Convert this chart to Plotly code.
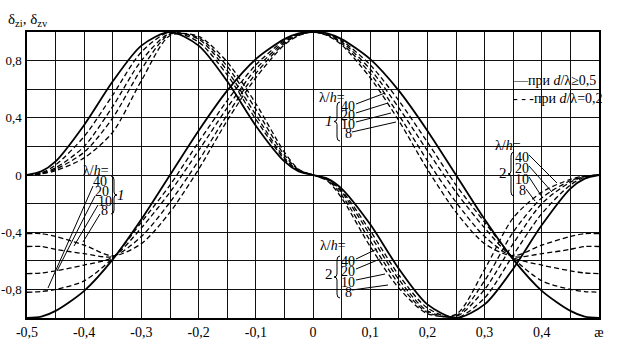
import plotly.graph_objects as go

# ---------------- data ----------------
X_GRID = [-0.5, -0.475, -0.45, -0.4, -0.35, -0.3, -0.25, -0.2, -0.15, -0.1, -0.05, -0.025, 0.0,
          0.025, 0.05, 0.1, 0.15, 0.2, 0.25, 0.3, 0.35, 0.4, 0.45, 0.475, 0.5]

# family 1 (even), solid: d/lambda >= 0.5
F1_SOLID = [-1.0, -0.99, -0.95, -0.81, -0.59, -0.31, 0.0, 0.31, 0.59, 0.81, 0.95, 0.99, 1.0,
            0.99, 0.95, 0.81, 0.59, 0.31, 0.0, -0.31, -0.59, -0.81, -0.95, -0.99, -1.0]
# family 1, dashed: d/lambda = 0.2, lambda/h = 40, 20, 10, 8
F1_D40 = [-0.82, -0.815, -0.80, -0.74, -0.58, -0.33, -0.07, 0.23, 0.52, 0.77, 0.94, 0.985, 1.0,
          0.985, 0.94, 0.77, 0.52, 0.23, -0.07, -0.33, -0.58, -0.74, -0.80, -0.815, -0.82]
F1_D20 = [-0.69, -0.685, -0.67, -0.63, -0.575, -0.37, -0.12, 0.17, 0.47, 0.74, 0.93, 0.98, 1.0,
          0.98, 0.93, 0.74, 0.47, 0.17, -0.12, -0.37, -0.575, -0.63, -0.67, -0.685, -0.69]
F1_D10 = [-0.50, -0.50, -0.52, -0.55, -0.57, -0.43, -0.19, 0.10, 0.42, 0.71, 0.92, 0.98, 1.0,
          0.98, 0.92, 0.71, 0.42, 0.10, -0.19, -0.43, -0.57, -0.55, -0.52, -0.50, -0.50]
F1_D8 = [-0.41, -0.41, -0.43, -0.49, -0.565, -0.48, -0.26, 0.04, 0.38, 0.68, 0.91, 0.975, 1.0,
         0.975, 0.91, 0.68, 0.38, 0.04, -0.26, -0.48, -0.565, -0.49, -0.43, -0.41, -0.41]

# family 2 (odd), solid
F2_SOLID = [0.0, 0.025, 0.095, 0.35, 0.655, 0.905, 1.0, 0.905, 0.655, 0.345, 0.095, 0.025, 0.0,
            -0.025, -0.095, -0.345, -0.655, -0.905, -1.0, -0.905, -0.655, -0.35, -0.095, -0.025, 0.0]
# family 2, dashed
F2_D40 = [0.0, 0.015, 0.07, 0.27, 0.56, 0.86, 1.0, 0.93, 0.70, 0.39, 0.11, 0.03, 0.0,
          -0.03, -0.11, -0.39, -0.70, -0.93, -1.0, -0.86, -0.56, -0.27, -0.07, -0.015, 0.0]
F2_D20 = [0.0, 0.012, 0.05, 0.20, 0.48, 0.80, 0.99, 0.95, 0.73, 0.42, 0.12, 0.03, 0.0,
          -0.03, -0.12, -0.42, -0.73, -0.95, -0.99, -0.80, -0.48, -0.20, -0.05, -0.012, 0.0]
F2_D10 = [0.0, 0.01, 0.04, 0.16, 0.40, 0.74, 0.985, 0.96, 0.76, 0.46, 0.14, 0.035, 0.0,
          -0.035, -0.14, -0.46, -0.76, -0.96, -0.985, -0.74, -0.40, -0.16, -0.04, -0.01, 0.0]
F2_D8 = [0.0, 0.008, 0.03, 0.12, 0.30, 0.66, 0.975, 0.97, 0.79, 0.50, 0.16, 0.04, 0.0,
         -0.04, -0.16, -0.50, -0.79, -0.97, -0.975, -0.66, -0.30, -0.12, -0.03, -0.008, 0.0]

LAMBDA_H = ["40", "20", "10", "8"]

X_TICK_VALS = [-0.5, -0.45, -0.4, -0.35, -0.3, -0.25, -0.2, -0.15, -0.1, -0.05, 0.0,
               0.05, 0.1, 0.15, 0.2, 0.25, 0.3, 0.35, 0.4, 0.45, 0.5]
X_TICK_TEXT = ["-0,5", " ", "-0,4", " ", "-0,3", " ", "-0,2", " ", "-0,1", " ", "0",
               " ", "0,1", " ", "0,2", " ", "0,3", " ", "0,4", " ", "æ"]
Y_TICK_VALS = [-1.0, -0.8, -0.6, -0.4, -0.2, 0.0, 0.2, 0.4, 0.6, 0.8, 1.0]
Y_TICK_TEXT = [" ", "-0,8", " ", "-0,4", " ", "0", " ", "0,4", " ", "0,8", " "]

Y_TITLE = "δ<sub>zi</sub>, δ<sub>zv</sub>"
LEGEND_SOLID = "—при <i>d</i>/λ≥0,5"
LEGEND_DASH = "- - -при <i>d</i>/λ=0,2"

# ---------------- layout helpers ----------------
W, H = 617, 341
L, R, T, B = 27, 18, 32, 23
FONT = "Liberation Serif, Times New Roman, serif"


def X(px):
    return -0.5 + (px - L) / (W - L - R)


def Y(py):
    return 1.0 - 2.0 * (py - T) / (H - T - B)


fig = go.Figure()

solid_style = dict(color="black", width=1.8, shape="spline", smoothing=0.8)
dash_style = dict(color="black", width=1.3, dash="5px,3px", shape="spline", smoothing=0.8)

for ys in (F1_SOLID, F2_SOLID):
    fig.add_trace(go.Scatter(x=X_GRID, y=ys, mode="lines", line=solid_style,
                             showlegend=False, hoverinfo="skip"))
for ys in (F1_D40, F1_D20, F1_D10, F1_D8, F2_D40, F2_D20, F2_D10, F2_D8):
    fig.add_trace(go.Scatter(x=X_GRID, y=ys, mode="lines", line=dash_style,
                             showlegend=False, hoverinfo="skip"))

shapes = []
annotations = []

# legend box (white patch over grid)
shapes.append(dict(type="rect", xref="x", yref="y", x0=X(511), x1=X(599), y0=Y(115), y1=Y(63),
                   fillcolor="white", line=dict(width=0), layer="below"))
annotations.append(dict(xref="x", yref="y", x=X(511), y=Y(80), text=LEGEND_SOLID,
                        xanchor="left", yanchor="middle", showarrow=False,
                        font=dict(family=FONT, size=14, color="black")))
annotations.append(dict(xref="x", yref="y", x=X(511), y=Y(98), text=LEGEND_DASH,
                        xanchor="left", yanchor="middle", showarrow=False,
                        font=dict(family=FONT, size=14, color="black")))

# y title (above the plot, top-left)
annotations.append(dict(xref="paper", yref="paper", x=(6 - L) / (W - L - R),
                        y=(H - B - 20) / (H - T - B), text=Y_TITLE,
                        xanchor="left", yanchor="middle", showarrow=False,
                        font=dict(family=FONT, size=15, color="black")))


def brace(xp, yt, yb, d):
    """d=+1: '{' (tip left), d=-1: '}' (tip right); pixel coords."""
    ym = (yt + yb) / 2
    pts = [
        ("M", [(xp + 3 * d, yt)]),
        ("Q", [(xp, yt), (xp, yt + 4)]),
        ("L", [(xp, ym - 3)]),
        ("Q", [(xp, ym), (xp - 3 * d, ym)]),
        ("Q", [(xp, ym), (xp, ym + 3)]),
        ("L", [(xp, yb - 4)]),
        ("Q", [(xp, yb), (xp + 3 * d, yb)]),
    ]
    s = ""
    for cmd, ps in pts:
        s += cmd + " ".join(f"{X(a):.5f},{Y(b):.5f}" for a, b in ps) + " "
    return dict(type="path", xref="x", yref="y", path=s.strip(),
                line=dict(color="black", width=1))


def text(px, py, t, size=14, anchor="left"):
    annotations.append(dict(xref="x", yref="y", x=X(px), y=Y(py), text=t,
                            xanchor=anchor, yanchor="middle", showarrow=False,
                            borderpad=0,
                            font=dict(family=FONT, size=size, color="black")))


def leader(p0, p1):
    shapes.append(dict(type="line", xref="x", yref="y", x0=X(p0[0]), y0=Y(p0[1]),
                       x1=X(p1[0]), y1=Y(p1[1]), line=dict(color="black", width=1)))


def group(lab_xy, num_x, num_ys, br_x, br_y, br_d, idx_xy, idx_text, leaders):
    text(lab_xy[0], lab_xy[1], "λ/<i>h</i>=", 14)
    for val, (nx, ny) in zip(LAMBDA_H, zip(num_x, num_ys)):
        text(nx, ny, val, 14)
    shapes.append(brace(br_x, br_y[0], br_y[1], br_d))
    text(idx_xy[0], idx_xy[1], idx_text, 15, "center")
    for p0, p1 in leaders:
        leader(p0, p1)


# family 1, upper-middle
group((318, 97), [340, 340, 340, 344], [106, 115, 124, 133], 337, (102, 141), 1,
      (329, 121), "<i>1</i>",
      [((356, 104), (385, 93)), ((356, 113), (388, 103)), ((356, 122), (391, 113)),
       ((352, 132), (396, 122))])
# family 1, left
group((82, 170), [92, 94, 97, 100], [181, 191, 201, 210], 114, (176, 214), -1,
      (121, 195), "<i>1</i>",
      [((93, 186), (48, 288)), ((95, 196), (57, 271)), ((98, 205), (74, 246)),
       ((100, 214), (83, 242))])
# family 2, right-middle
group((494, 145), [514, 514, 514, 518], [157, 168, 179, 190], 511, (152, 196), 1,
      (503, 173), "2",
      [((529, 155), (557, 183)), ((529, 166), (552, 192)), ((529, 177), (542, 197)),
       ((526, 189), (535, 201))])
# family 2, bottom
group((319, 245), [340, 340, 340, 344], [261, 271, 282, 292], 337, (256, 298), 1,
      (329, 274), "2",
      [((356, 259), (377, 249)), ((356, 269), (380, 259)), ((356, 280), (385, 274)),
       ((352, 290), (388, 285))])

axis_common = dict(showline=True, linecolor="black", linewidth=1.5, mirror=True,
                   showgrid=True, gridcolor="#111111", gridwidth=1.2, zeroline=False,
                   ticks="", fixedrange=True, automargin=False)

fig.update_xaxes(range=[-0.5, 0.5], tickmode="array", tickvals=X_TICK_VALS,
                 ticktext=X_TICK_TEXT, tickfont=dict(family=FONT, size=14, color="black"),
                 **axis_common)
fig.update_yaxes(range=[-1.0, 1.0], tickmode="array", tickvals=Y_TICK_VALS,
                 ticktext=Y_TICK_TEXT, ticklabelstandoff=1,
                 tickfont=dict(family=FONT, size=13, color="black"), **axis_common)

fig.update_layout(template="none", width=W, height=H,
                  margin=dict(l=L, r=R, t=T, b=B, pad=0, autoexpand=False),
                  paper_bgcolor="white", plot_bgcolor="white",
                  shapes=shapes, annotations=annotations, showlegend=False)

fig.write_html("out.html")
